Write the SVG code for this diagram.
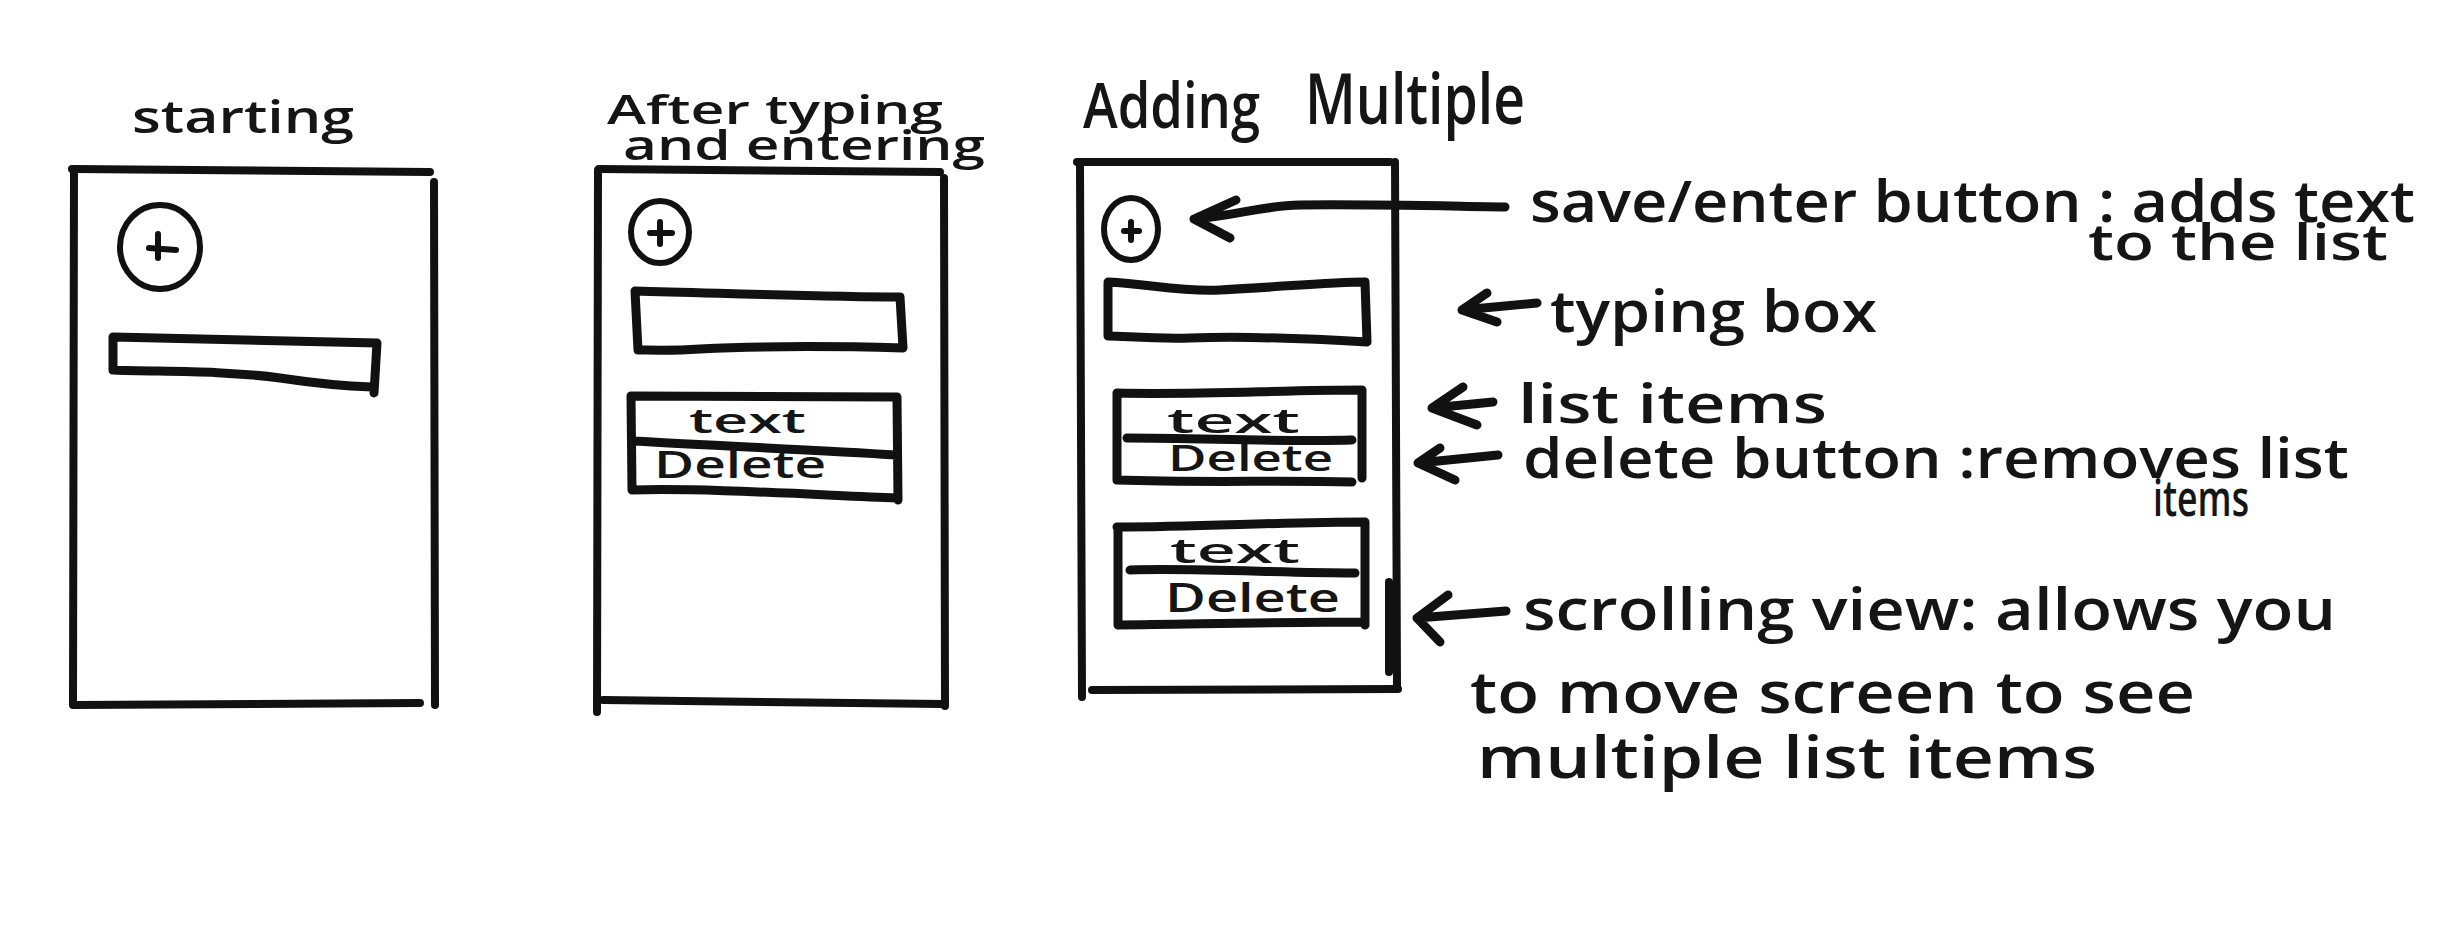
<svg xmlns="http://www.w3.org/2000/svg" width="2455" height="931" viewBox="0 0 2455 931">
<style>
  .ink { fill: none; stroke: #111; stroke-linecap: round; stroke-linejoin: round; }
  .frame { stroke-width: 8; }
  .box { stroke-width: 9; }
  .thin { stroke-width: 6; }
  .hand { font-family: "Open Sans", "Liberation Sans", sans-serif; font-weight: 600; fill: #151515; }
</style>
<rect width="2455" height="931" fill="#fff"/>

<!-- Screen 1: starting -->
<g id="screen-starting">
  <text class="hand" x="132" y="133" font-size="46" textLength="222" lengthAdjust="spacingAndGlyphs">starting</text>
  <path class="ink frame" d="M72,169 L430,172"/>
  <path class="ink frame" d="M74,170 L73,705"/>
  <path class="ink frame" d="M434,182 L435,705"/>
  <path class="ink frame" d="M74,705 L420,703"/>
  <ellipse class="ink thin" cx="160" cy="247" rx="40" ry="42"/>
  <path class="ink thin" d="M149,248 L176,250 M158,234 L158,258"/>
  <path class="ink box" d="M113,337 L377,343 L374,393 M113,337 L113,370 C160,372 220,370 280,378 C320,384 340,386 372,387"/>
</g>

<!-- Screen 2: after typing and entering -->
<g id="screen-after">
  <text class="hand" x="607" y="124" font-size="40" textLength="336" lengthAdjust="spacingAndGlyphs">After typing</text>
  <text class="hand" x="623" y="160" font-size="42" textLength="362" lengthAdjust="spacingAndGlyphs">and entering</text>
  <path class="ink frame" d="M599,169 L940,172"/>
  <path class="ink frame" d="M598,170 L597,712"/>
  <path class="ink frame" d="M944,178 L945,706"/>
  <path class="ink frame" d="M603,700 L942,704"/>
  <ellipse class="ink thin" cx="660" cy="232" rx="29" ry="31"/>
  <path class="ink thin" d="M650,233 L672,233 M660,222 L660,244"/>
  <path class="ink box" d="M635,291 C720,293 820,297 900,297 L903,348 C830,346 760,346 700,349 C670,351 650,350 638,350 L635,291"/>
  <path class="ink box" d="M631,396 L897,397 L898,500 M631,396 L632,490 C700,488 800,494 897,498 M634,441 C720,446 820,450 897,455"/>
  <text class="hand" x="689" y="433" font-size="34" textLength="117" lengthAdjust="spacingAndGlyphs">text</text>
  <text class="hand" x="654" y="478" font-size="38" textLength="172" lengthAdjust="spacingAndGlyphs">Delete</text>
</g>

<!-- Screen 3: adding multiple -->
<g id="screen-multiple">
  <text class="hand" x="1083" y="128" font-size="64" textLength="177" lengthAdjust="spacingAndGlyphs">Adding</text>
  <text class="hand" x="1305" y="124" font-size="70" textLength="220" lengthAdjust="spacingAndGlyphs">Multiple</text>
  <path class="ink frame" d="M1077,162 L1390,162"/>
  <path class="ink frame" d="M1080,165 L1082,697"/>
  <path class="ink frame" d="M1395,162 L1397,686"/>
  <path class="ink frame" d="M1092,690 L1398,689"/>
  <path class="ink frame" d="M1389,582 L1389,672"/>
  <ellipse class="ink thin" cx="1131" cy="229" rx="27" ry="31"/>
  <path class="ink thin" d="M1124,231 L1139,231 M1131,222 L1131,240"/>
  <path class="ink box" d="M1108,282 C1150,284 1180,292 1220,290 C1280,287 1330,282 1365,282 L1367,342 C1300,338 1250,336 1190,338 C1150,339 1125,336 1108,336 L1108,284"/>
  <path class="ink box" d="M1117,393 C1200,395 1280,390 1362,390 L1362,478 M1117,393 L1117,480 C1200,483 1280,480 1352,482 M1127,438 C1200,438 1280,442 1352,440"/>
  <text class="hand" x="1167" y="433" font-size="34" textLength="133" lengthAdjust="spacingAndGlyphs">text</text>
  <text class="hand" x="1168" y="471" font-size="36" textLength="165" lengthAdjust="spacingAndGlyphs">Delete</text>
  <path class="ink box" d="M1117,527 C1200,527 1280,522 1365,522 L1365,625 M1118,527 L1118,625 C1200,624 1290,622 1365,622 M1130,570 C1200,568 1280,573 1355,573"/>
  <text class="hand" x="1170" y="563" font-size="34" textLength="130" lengthAdjust="spacingAndGlyphs">text</text>
  <text class="hand" x="1165" y="612" font-size="40" textLength="175" lengthAdjust="spacingAndGlyphs">Delete</text>
</g>

<!-- Annotation labels -->
<g id="label-save">
  <text class="hand" x="1530" y="222" font-size="58" textLength="885" lengthAdjust="spacingAndGlyphs">save/enter button : adds text</text>
  <text class="hand" x="2088" y="260" font-size="50" textLength="300" lengthAdjust="spacingAndGlyphs">to the list</text>
</g>
<g id="label-typing">
  <text class="hand" x="1550" y="332" font-size="58" textLength="327" lengthAdjust="spacingAndGlyphs">typing box</text>
</g>
<g id="label-list">
  <text class="hand" x="1518" y="423" font-size="54" textLength="309" lengthAdjust="spacingAndGlyphs">list items</text>
</g>
<g id="label-delete">
  <text class="hand" x="1523" y="478" font-size="56" textLength="826" lengthAdjust="spacingAndGlyphs">delete button :removes list</text>
  <text class="hand" x="2153" y="516" font-size="50" textLength="96" lengthAdjust="spacingAndGlyphs">items</text>
</g>
<g id="label-scrolling">
  <text class="hand" x="1523" y="630" font-size="58" textLength="813" lengthAdjust="spacingAndGlyphs">scrolling view: allows you</text>
  <text class="hand" x="1470" y="713" font-size="58" textLength="725" lengthAdjust="spacingAndGlyphs">to move screen to see</text>
  <text class="hand" x="1477" y="778" font-size="58" textLength="620" lengthAdjust="spacingAndGlyphs">multiple list items</text>
</g>

<!-- Connectors -->
<g id="connectors">
  <path class="ink box" d="M1505,207 C1440,206 1360,204 1300,205 C1260,206 1240,215 1194,219 M1194,219 L1236,200 M1194,219 L1230,238"/>
  <path class="ink box" d="M1537,303 L1462,310 M1462,310 L1487,293 M1462,310 L1497,322"/>
  <path class="ink box" d="M1493,402 L1432,408 M1432,408 L1463,387 M1432,408 L1477,425"/>
  <path class="ink box" d="M1498,455 L1418,463 M1418,463 L1440,448 M1418,463 L1455,480"/>
  <path class="ink box" d="M1506,611 L1417,618 M1417,618 L1448,595 M1417,618 L1440,642"/>
</g>
</svg>
